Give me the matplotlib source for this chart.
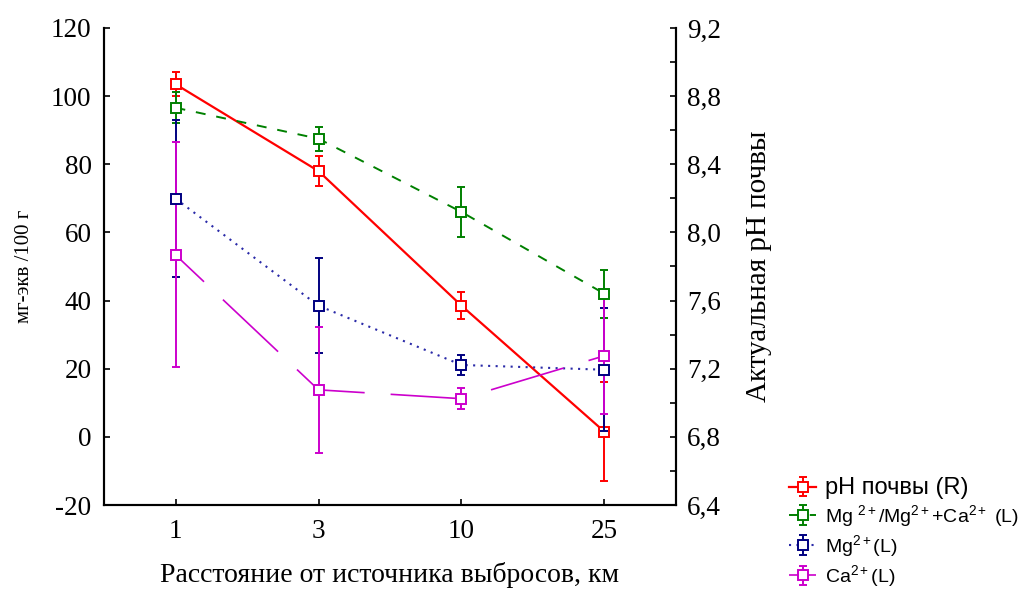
import matplotlib
matplotlib.use("Agg")
import matplotlib.pyplot as plt
from matplotlib.ticker import FuncFormatter, MultipleLocator

plt.rcParams["font.family"] = ["Liberation Serif", "DejaVu Serif"]
plt.rcParams["axes.unicode_minus"] = False
plt.rcParams["mathtext.fontset"] = "custom"
plt.rcParams["mathtext.rm"] = "Liberation Sans"
plt.rcParams["mathtext.it"] = "Liberation Sans"

# distance from the emission source, km
DISTANCES = ["1", "3", "10", "25"]

# soil pH (right axis)
PH_MEAN = [8.87, 8.36, 7.57, 6.83]
PH_ERR = [0.07, 0.09, 0.08, 0.29]

# Mg / (Mg + Ca), left axis
RATIO_MEAN = [96.6, 87.5, 66.0, 42.0]
RATIO_ERR = [4.5, 3.5, 7.3, 7.0]

# exchangeable Mg, mg-eq / 100 g
MG_MEAN = [69.9, 38.5, 21.1, 19.7]
MG_ERR = [23.0, 14.0, 3.0, 18.0]

# exchangeable Ca, mg-eq / 100 g
CA_MEAN = [53.4, 13.8, 11.2, 23.8]
CA_ERR = [33.0, 18.5, 3.0, 17.0]

RED = "#FF0000"
GREEN = "#008000"
NAVY = "#000080"
BLUE_DOTS = "#2A2AA8"
MAGENTA = "#CC00CC"

x = list(range(len(DISTANCES)))

fig = plt.figure(figsize=(10.27, 5.89), dpi=100)
ax = fig.add_axes([0.1013, 0.1426, 0.5569, 0.8099])
ax2 = ax.twinx()

common = dict(marker="s", markersize=6.5, markerfacecolor="white",
              markeredgewidth=1.4, capsize=3.2, elinewidth=1.4, capthick=1.4)

h_ph = ax2.errorbar(x, PH_MEAN, yerr=PH_ERR, color=RED, ecolor=RED, mec=RED,
                    lw=1.6, linestyle="-", **common)
h_ratio = ax.errorbar(x, RATIO_MEAN, yerr=RATIO_ERR, color=GREEN, ecolor=GREEN,
                      mec=GREEN, lw=1.4, linestyle=(0, (5.1, 5.6)), **common)
h_mg = ax.errorbar(x, MG_MEAN, yerr=MG_ERR, color=BLUE_DOTS, ecolor=NAVY,
                   mec=NAVY, lw=1.5, linestyle=(0, (1.0, 2.6)), **common)
h_ca = ax.errorbar(x, CA_MEAN, yerr=CA_ERR, color=MAGENTA, ecolor=MAGENTA,
                   mec=MAGENTA, lw=1.2, linestyle=(22.0, (45.5, 15.6)), **common)

# left-axis series sit above the pH series
ax.set_zorder(ax2.get_zorder() + 1)
ax.patch.set_visible(False)

ax.set_xlim(-0.5, len(DISTANCES) - 0.5)
ax.set_ylim(-20, 120)
ax2.set_ylim(6.4, 9.2)

ax.set_xticks(x)
ax.set_xticklabels(DISTANCES)
ax.yaxis.set_major_locator(MultipleLocator(20))
ax2.yaxis.set_major_locator(MultipleLocator(0.4))
ax2.yaxis.set_minor_locator(MultipleLocator(0.2))
ax2.yaxis.set_major_formatter(FuncFormatter(lambda v, _: f"{v:.1f}".replace(".", ",")))

for a in (ax, ax2):
    a.spines["top"].set_visible(False)
    for s in ("left", "right", "bottom"):
        a.spines[s].set_linewidth(1.5)
    a.tick_params(which="both", direction="in", length=4, width=1.2,
                  labelsize=19.5, pad=8)
ax.tick_params(axis="y", right=False, pad=9)
ax.tick_params(axis="x", pad=10)
ax2.tick_params(axis="y", which="minor", length=4)

ax.set_xlabel("Расстояние от источника выбросов, км", fontsize=20, labelpad=13)
ax.set_ylabel("мг-экв /100 г", fontsize=15, labelpad=12)
ax2.set_ylabel("Актуальная pH почвы", fontsize=21, labelpad=18)

leg = fig.legend(
    [h_ph, h_ratio, h_mg, h_ca],
    ["pH почвы (R)", r"Mg $^{2+}$/Mg$^{2+}$+Ca$^{2+}$ (L)",
     r"Mg$^{2+}$(L)", r"Ca$^{2+}$(L)"],
    loc="upper left", bbox_to_anchor=(0.755, 0.214), frameon=False,
    handlelength=1.4, handletextpad=0.45, labelspacing=0.22, borderpad=0.2,
    prop={"family": ["Liberation Sans", "DejaVu Sans"], "size": 14},
)
for t, size in zip(leg.get_texts(), [17, 14, 14, 14]):
    t.set_fontsize(size)

fig.savefig("out.png", dpi=100)
